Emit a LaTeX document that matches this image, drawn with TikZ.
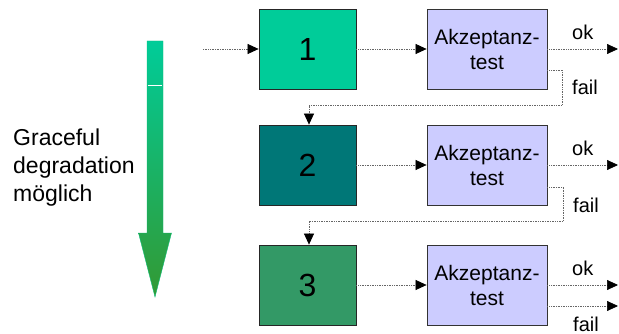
\documentclass[tikz,border=0pt]{standalone}
\usepackage{fontspec}
\setmainfont{Liberation Sans}
\usetikzlibrary{arrows.meta}
\definecolor{cone}{HTML}{00CC99}
\definecolor{ctwo}{HTML}{007777}
\definecolor{cthree}{HTML}{339966}
\definecolor{cacc}{HTML}{CCCCFF}
\definecolor{arrtop}{HTML}{00CC99}
\definecolor{arrbot}{HTML}{339933}
\tikzset{
  numbox/.style={draw=black!85, line width=0.8pt, minimum width=97pt, minimum height=80pt, inner sep=0pt, font=\fontsize{32}{32}\selectfont},
  accbox/.style={draw=black!80, line width=0.8pt, fill=cacc, minimum width=120pt, minimum height=80pt, inner sep=0pt, align=center, font=\fontsize{21}{25}\selectfont},
  dotline/.style={densely dotted, line width=0.7pt, color=black!60, -{Triangle[length=11pt,width=10pt,color=black]}},
  lbl/.style={anchor=base west, inner sep=0pt, font=\fontsize{20}{20}\selectfont},
}
\begin{document}
\begin{tikzpicture}[x=1pt,y=-1pt]
\useasboundingbox (0,0) rectangle (619,334);
% gradient arrow
\shadedraw[top color=arrtop, bottom color=arrbot, draw=arrtop!70!arrbot, line width=0.4pt]
  (147,41) -- (163,41) -- (163,233) -- (171.5,233) -- (155,297) -- (138.5,233) -- (147,233) -- cycle;
\draw[white, line width=0.6pt] (147.6,85) -- (162.4,85);
\node[anchor=base west, inner sep=0pt, align=left, font=\fontsize{23}{28.5}\selectfont] (gd) at (13,202) {Graceful\\degradation\\möglich};
% boxes
\node[numbox, fill=cone] (b1) at (307.5,49) {1};
\node[numbox, fill=ctwo] (b2) at (307.5,165) {2};
\node[numbox, fill=cthree] (b3) at (307.5,285) {3};
\node[accbox] (a1) at (487,49) {Akzeptanz-\\test};
\node[accbox] (a2) at (487,165) {Akzeptanz-\\test};
\node[accbox] (a3) at (487,285) {Akzeptanz-\\test};
% coordinates
\coordinate (in) at (203,49);
\coordinate (ok1) at (618,49);
\coordinate (ok2) at (618,165);
\coordinate (ok3) at (618,285);
\coordinate (f3) at (618,306);
\coordinate (c1) at (562.5,105);
\coordinate (c2) at (563.5,221);
% connectors
\draw[dotline] (in) -- (b1.west);
\draw[dotline] (b1.east) -- (a1.west);
\draw[dotline] (b2.east) -- (a2.west);
\draw[dotline] (b3.east) -- (a3.west);
\draw[dotline] (a1.east) -- (ok1);
\draw[dotline] (a2.east) -- (ok2);
\draw[dotline] (a3.east) -- (ok3);
\draw[dotline] (a3.east |- f3) -- (f3);
\draw[dotline] ([yshift=-21pt]a1.east) -| (c1) -| ([xshift=1.5pt]b2.north);
\draw[dotline] ([yshift=-22pt]a2.east) -| (c2) -| ([xshift=1.5pt]b3.north);
% labels
\node[lbl] (lok1) at (572,40) {ok};
\node[lbl] (lf1) at (572,95) {fail};
\node[lbl] (lok2) at (572,156) {ok};
\node[lbl] (lf2) at (573,212) {fail};
\node[lbl] (lok3) at (572,275) {ok};
\node[lbl] (lf3) at (573,331) {fail};
\end{tikzpicture}
\end{document}
